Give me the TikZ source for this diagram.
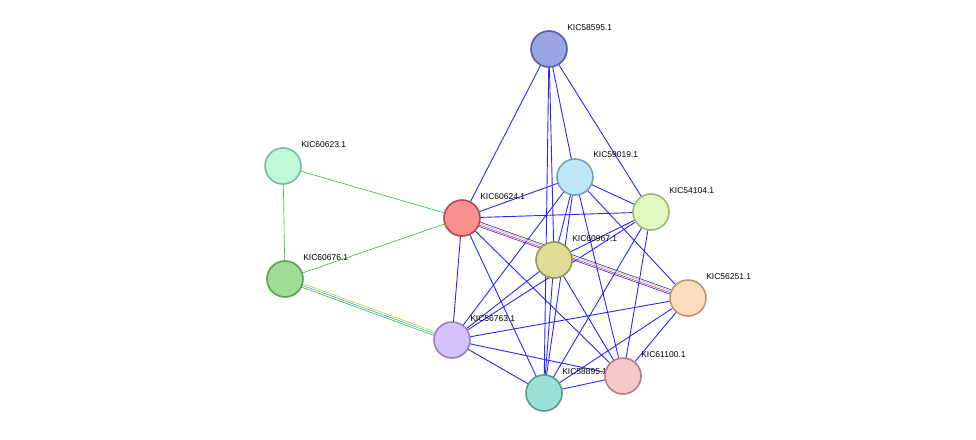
\documentclass[tikz,border=0pt]{standalone}
\usepackage{fontspec}
\setmainfont{Liberation Sans}
\definecolor{edge_blue}{RGB}{40,40,245}
\definecolor{edge_green}{RGB}{50,190,50}
\definecolor{edge_pink}{RGB}{220,50,210}
\definecolor{edge_yellow}{RGB}{190,210,40}
\definecolor{edge_cyan}{RGB}{50,170,230}

\begin{document}
\begin{tikzpicture}[x=1pt,y=-1pt,semithick]
    \tikzstyle{prot}=[circle, minimum size=36pt, inner sep=0pt, line width=1.6pt]
    \tikzstyle{lbl}=[anchor=west, inner sep=0pt, font=\fontsize{8.5}{10}\selectfont]
    \tikzstyle{ppi}=[edge_blue, line width=0.9pt]
    \useasboundingbox (0,0) rectangle (976,439);

    \coordinate (n1) at (549,49);
    \coordinate (n2) at (575,177);
    \coordinate (n3) at (651,212);
    \coordinate (n4) at (462,218);
    \coordinate (n5) at (554,260);
    \coordinate (n6) at (688,298);
    \coordinate (n7) at (283,166);
    \coordinate (n8) at (285,279);
    \coordinate (n9) at (452,340);
    \coordinate (n10) at (623,376);
    \coordinate (n11) at (544,393);

    \foreach \a/\b in {n1/n4,n1/n5,n1/n11,n1/n2,n1/n3,
                       n2/n4,n2/n3,n2/n9,n2/n5,n2/n11,n2/n10,n2/n6,
                       n4/n3,n4/n9,n4/n11,n4/n10,
                       n3/n5,n3/n9,n3/n11,n3/n10,
                       n5/n9,n5/n11,n5/n10,
                       n6/n9,n6/n11,n6/n10,
                       n9/n11,n9/n10,n11/n10}
        \draw[ppi] (\a) -- (\b);
    % multi-evidence links
    \draw[edge_blue] ([yshift=-2.5]n4) -- ([yshift=-2.5]n6);
    \draw[edge_pink] ([yshift=-1]n4) -- ([yshift=-1]n6);
    \draw[edge_yellow] ([yshift=0.8]n4) -- ([yshift=0.8]n6);
    \draw[edge_blue] ([yshift=2.3]n4) -- ([yshift=2.3]n6);
    \draw[edge_green] ([yshift=-2]n8) -- ([yshift=-2]n9);
    \draw[edge_cyan] (n8) -- (n9);
    \draw[edge_yellow] ([yshift=2]n8) -- ([yshift=2]n9);
    \draw[edge_green] (n7) -- (n8);
    \draw[edge_green] (n7) -- (n4);
    \draw[edge_green] (n8) -- (n4);

    \node[prot, draw={rgb,255:red,85;green,95;blue,165}, fill={rgb,255:red,155;green,165;blue,225}] (p1) at (n1) {};
    \node[lbl] at (567,28) {KIC58595.1};
    \node[prot, draw={rgb,255:red,120;green,160;blue,185}, fill={rgb,255:red,190;green,230;blue,250}] (p2) at (n2) {};
    \node[lbl] at (593,155) {KIC59019.1};
    \node[prot, draw={rgb,255:red,160;green,185;blue,110}, fill={rgb,255:red,225;green,250;blue,195}] (p3) at (n3) {};
    \node[lbl] at (669,191) {KIC54104.1};
    \node[prot, draw={rgb,255:red,175;green,75;blue,75}, fill={rgb,255:red,250;green,145;blue,145}] (p4) at (n4) {};
    \node[lbl] at (480,197) {KIC60624.1};
    \node[prot, draw={rgb,255:red,150;green,150;blue,85}, fill={rgb,255:red,222;green,220;blue,150}] (p5) at (n5) {};
    \node[lbl] at (572,239) {KIC60967.1};
    \node[prot, draw={rgb,255:red,185;green,150;blue,120}, fill={rgb,255:red,253;green,220;blue,190}] (p6) at (n6) {};
    \node[lbl] at (706,277) {KIC56251.1};
    \node[prot, draw={rgb,255:red,125;green,185;blue,150}, fill={rgb,255:red,190;green,250;blue,215}] (p7) at (n7) {};
    \node[lbl] at (301,145) {KIC60623.1};
    \node[prot, draw={rgb,255:red,95;green,155;blue,85}, fill={rgb,255:red,160;green,220;blue,150}] (p8) at (n8) {};
    \node[lbl] at (303,258) {KIC60676.1};
    \node[prot, draw={rgb,255:red,150;green,130;blue,190}, fill={rgb,255:red,212;green,195;blue,250}] (p9) at (n9) {};
    \node[lbl] at (470,319) {KIC56763.1};
    \node[prot, draw={rgb,255:red,85;green,155;blue,145}, fill={rgb,255:red,155;green,225;blue,215}] (p11) at (n11) {};
    \node[lbl] at (562,372) {KIC58895.1};
    \node[prot, draw={rgb,255:red,185;green,125;blue,125}, fill={rgb,255:red,245;green,200;blue,200}] (p10) at (n10) {};
    \node[lbl] at (641,355) {KIC61100.1};
\end{tikzpicture}
\end{document}
